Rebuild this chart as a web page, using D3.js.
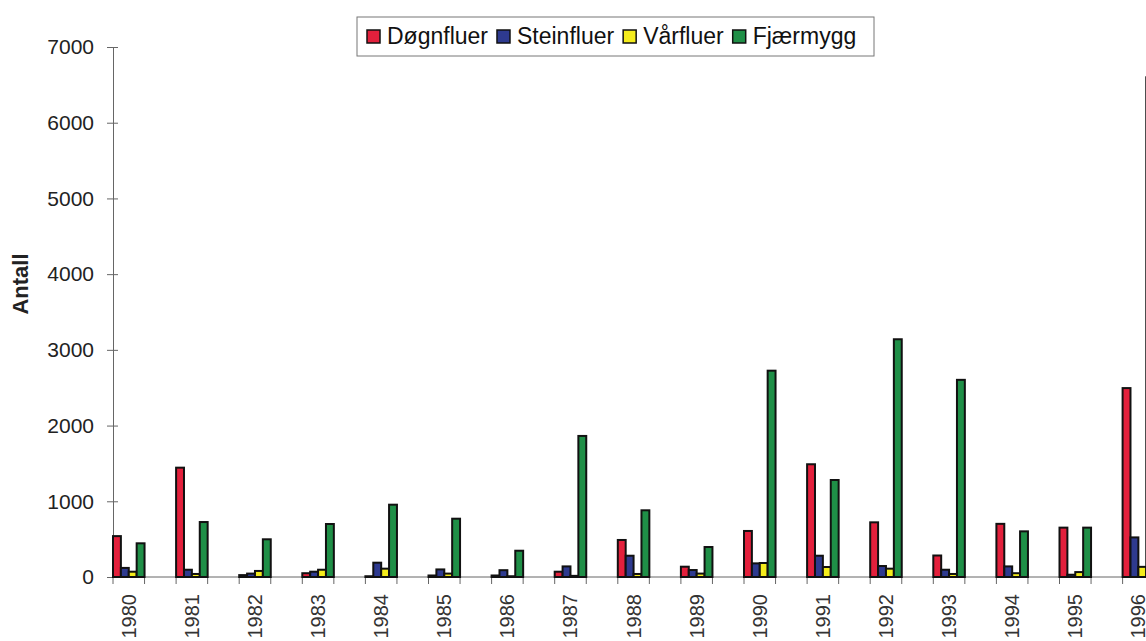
<!DOCTYPE html>
<html>
<head>
<meta charset="utf-8">
<script src="https://cdn.jsdelivr.net/npm/d3@7"></script>
<style>
  body { margin: 0; background: #fff; }
  svg { display: block; font-family: "Liberation Sans", Arial, sans-serif; }
</style>
</head>
<body>
<div id="chart"></div>
<script>
const years = ["1980","1981","1982","1983","1984","1985","1986","1987","1988",
               "1989","1990","1991","1992","1993","1994","1995","1996"];
const seriesNames = ["Døgnfluer", "Steinfluer", "Vårfluer", "Fjærmygg"];
const dognfluer  = [540, 1444, 25, 50, 10, 20, 20, 70, 489, 136, 608, 1489, 722, 284, 702, 652, 2495];
const steinfluer = [120, 96, 45, 70, 189, 100, 90, 140, 281, 92, 180, 281, 145, 96, 140, 30, 523];
const varfluer   = [70, 40, 80, 96, 110, 45, 10, 15, 40, 45, 185, 132, 110, 40, 50, 65, 134];
const fjaermygg  = [445, 726, 498, 700, 955, 770, 347, 1863, 881, 396, 2725, 1281, 3140, 2604, 603, 652, 6600];
const yTicks = [0, 1000, 2000, 3000, 4000, 5000, 6000, 7000];
const colors = ["#e3203c", "#2e3a8f", "#f4ec1c", "#1f8f47"];

const width = 1146, height = 641;
const margin = { top: 47, left: 113, bottom: 64 };
const plot_bottom = height - margin.bottom;

const svg = d3.select("#chart").append("svg")
    .attr("width", width).attr("height", height);

const allSeries = [dognfluer, steinfluer, varfluer, fjaermygg];
const data = years.map((y, i) => ({ year: y, values: allSeries.map(s => s[i]) }));

// every year gets a slot, bars only fill the first half of it
const xScale = d3.scaleBand().domain(years)
    .range([margin.left, margin.left + 63.1 * years.length]).paddingInner(0);
const half = xScale.bandwidth() / 2;
const xSub = d3.scaleBand().domain(seriesNames).range([0, half]).paddingInner(0);
const yScale = d3.scaleLinear().domain([0, 7000]).range([plot_bottom, margin.top]);

// y axis
const yAxis = d3.axisLeft(yScale).tickValues(yTicks).tickFormat(d3.format("d"))
    .tickSize(6).tickPadding(13);
const gy = svg.append("g").attr("transform", `translate(${margin.left},0)`).call(yAxis);
gy.select(".domain").attr("stroke", "#666");
gy.selectAll(".tick line").attr("x1", -6).attr("x2", 5).attr("stroke", "#666");
gy.selectAll(".tick text").attr("font-size", 21).attr("fill", "#222")
    .attr("font-family", "'Liberation Sans', Arial, sans-serif");

svg.append("text")
    .attr("transform", "translate(28,284) rotate(-90)")
    .attr("text-anchor", "middle")
    .attr("font-size", 22).attr("font-weight", "bold").attr("fill", "#222")
    .text("Antall");

// x axis line with ticks at every half slot
const gx = svg.append("g");
gx.append("line").attr("x1", margin.left).attr("x2", width)
    .attr("y1", plot_bottom).attr("y2", plot_bottom).attr("stroke", "#666");
const tickPos = [];
years.forEach(y => { tickPos.push(xScale(y)); tickPos.push(xScale(y) + half); });
gx.selectAll("line.tk").data(tickPos).enter().append("line").attr("class", "tk")
    .attr("x1", d => d).attr("x2", d => d)
    .attr("y1", plot_bottom).attr("y2", plot_bottom + 7).attr("stroke", "#666");
gx.selectAll("text").data(years).enter().append("text")
    .attr("transform", d => `translate(${xScale(d) + half / 2 + 7},${plot_bottom + 17}) rotate(-90)`)
    .attr("text-anchor", "end")
    .attr("font-size", 20).attr("fill", "#333")
    .text(d => d);

// bars
const groups = svg.append("g").selectAll("g").data(data).enter().append("g")
    .attr("transform", d => `translate(${xScale(d.year)},0)`);
groups.selectAll("rect")
    .data(d => d.values.map((v, i) => ({ name: seriesNames[i], value: v, i: i })))
    .enter().append("rect")
    .attr("x", d => xSub(d.name))
    .attr("y", d => yScale(d.value))
    .attr("width", xSub.bandwidth())
    .attr("height", d => plot_bottom - yScale(d.value))
    .attr("fill", d => colors[d.i])
    .attr("stroke", "#111").attr("stroke-width", 2);

// legend
const legend = svg.append("g");
legend.append("rect").attr("x", 357).attr("y", 17).attr("width", 517).attr("height", 39)
    .attr("fill", "#fff").attr("stroke", "#777");
let lx = 367;
seriesNames.forEach((name, i) => {
    legend.append("rect").attr("x", lx).attr("y", 30).attr("width", 13).attr("height", 13)
        .attr("fill", colors[i]).attr("stroke", "#111").attr("stroke-width", 1.5);
    const t = legend.append("text").attr("x", lx + 20).attr("y", 44)
        .attr("font-size", 23).attr("fill", "#111").text(name);
    lx += 20 + t.node().getComputedTextLength() + 9;
});
</script>
</body>
</html>
